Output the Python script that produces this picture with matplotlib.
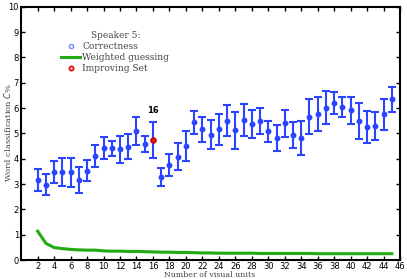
#!/usr/bin/env python3
"""Word classification vs number of visual units (Speaker 5)."""

import matplotlib
matplotlib.use("Agg")
import matplotlib.pyplot as plt
from matplotlib.lines import Line2D

units = list(range(2, 46))
correct = [3.16, 2.97, 3.46, 3.47, 3.46, 3.15, 3.53, 4.11, 4.42, 4.41,
           4.37, 4.47, 5.10, 4.58, 4.74, 3.29, 3.76, 4.07, 4.50, 5.43,
           5.16, 4.95, 5.16, 5.49, 5.12, 5.53, 5.37, 5.49, 5.08, 4.82,
           5.40, 4.93, 4.82, 5.66, 5.76, 6.01, 6.20, 6.05, 5.91, 5.49,
           5.26, 5.28, 5.75, 6.34]
err = [0.42, 0.41, 0.43, 0.54, 0.56, 0.51, 0.40, 0.42, 0.44, 0.30,
       0.53, 0.50, 0.56, 0.33, 0.72, 0.35, 0.43, 0.53, 0.58, 0.44,
       0.49, 0.57, 0.61, 0.61, 0.72, 0.64, 0.57, 0.52, 0.42, 0.50,
       0.53, 0.50, 0.67, 0.69, 0.67, 0.66, 0.43, 0.40, 0.53, 0.70,
       0.63, 0.56, 0.60, 0.50]
guess = [1.14, 0.66, 0.49, 0.45, 0.42, 0.40, 0.39, 0.39, 0.36, 0.35,
         0.35, 0.34, 0.34, 0.33, 0.32, 0.31, 0.31, 0.30, 0.30, 0.29,
         0.28, 0.28, 0.27, 0.27, 0.27, 0.27, 0.27, 0.26, 0.26, 0.26,
         0.26, 0.26, 0.26, 0.26, 0.25, 0.25, 0.25, 0.25, 0.25, 0.25,
         0.25, 0.25, 0.25, 0.25]
best_unit = 16

BLUE = "#2b44ff"
GREEN = "#22aa11"
GREY = "#444444"

fig = plt.figure(figsize=(4.07, 2.79), dpi=100)
ax = fig.add_axes([0.052, 0.068, 0.931, 0.908])

ax.plot(units, guess, color=GREEN, lw=2.2, zorder=2)
ax.errorbar(units, correct, yerr=err, fmt="o", color=BLUE, ms=3.2,
            elinewidth=1.5, capsize=2.6, capthick=1.5, zorder=3)
i = units.index(best_unit)
ax.plot(best_unit, correct[i], "o", ms=3.6, mfc="#ee1111", mec="#cc0000", zorder=4)
ax.text(best_unit, correct[i] + err[i] + 0.25, str(best_unit), ha="center",
        va="bottom", fontsize=6, fontweight="bold")

ax.set_xlim(0, 46)
ax.set_ylim(0, 10)
ax.set_xticks(range(2, 47, 2))
ax.set_yticks(range(0, 11))
ax.tick_params(direction="in", top=True, right=True, length=3, width=1,
               labelsize=6, pad=1.5)
for s in ax.spines.values():
    s.set_linewidth(1.5)

# axis labels placed by hand, the space around the axes is tight
fig.text(210 / 407, 1 - 275 / 279, "Number of visual units", family="DejaVu Serif",
         fontsize=5.6, color=GREY, ha="center", va="center")
fig.text(8 / 407, 1 - 132 / 279, "Word classification $C$%", family="DejaVu Serif",
         fontsize=6, color=GREY, ha="center", va="center", rotation=90)

handles = [
    Line2D([], [], ls="none", marker="o", ms=3, mfc="none", mec="#7788ff"),
    Line2D([], [], color=GREEN, lw=2.2),
    Line2D([], [], ls="none", marker="o", ms=3, mfc="none", mec="#dd1111", mew=1.3),
]
leg = ax.legend(handles, ["Correctness", "Weighted guessing", "Improving Set"],
                title="Speaker 5:", loc="upper left", bbox_to_anchor=(0.085, 0.935),
                frameon=False, prop={"family": "DejaVu Serif", "size": 6.5},
                handlelength=2.0, handletextpad=0.3, labelspacing=0.2)
leg.get_title().set_fontfamily("DejaVu Serif")
leg.get_title().set_fontsize(6.5)
leg.get_title().set_color(GREY)
for t in leg.get_texts():
    t.set_color(GREY)

fig.savefig("out.png", dpi=100)
